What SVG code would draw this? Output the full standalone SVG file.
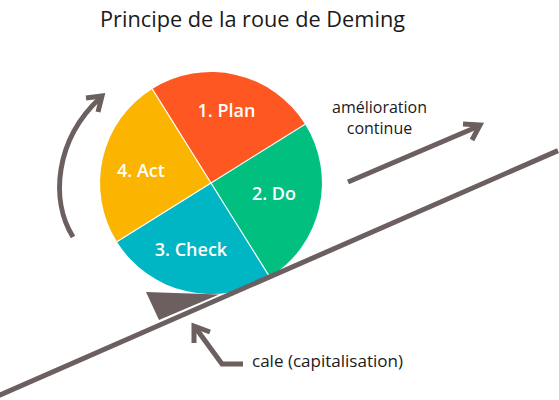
<svg xmlns="http://www.w3.org/2000/svg" width="559" height="400" viewBox="0 0 559 400">
<style>
text{font-family:"Open Sans","DejaVu Sans",sans-serif;}
.t{fill:#1a1a1a;}
.lbl{fill:#fff;font-size:18px;font-weight:600;text-anchor:middle;}
.ln{stroke:#6b5f5f;stroke-width:5;fill:none;stroke-linecap:butt;}
.sep{stroke:#fff;stroke-width:1.2;}
</style>
<rect width="559" height="400" fill="#fff"/>
<text class="t" x="100" y="27" font-size="22" textLength="305" lengthAdjust="spacingAndGlyphs">Principe de la roue de Deming</text>
<g id="plan">
<path d="M211,183 L152.2,88.9 A111,111 0 0 1 305.1,124.2 Z" fill="#FF5722"/>
<text class="lbl" x="226.5" y="117">1. Plan</text>
</g>
<g id="do">
<path d="M211,183 L305.1,124.2 A111,111 0 0 1 269.8,277.1 Z" fill="#00BF7F"/>
<text class="lbl" x="274" y="200">2. Do</text>
</g>
<g id="check">
<path d="M211,183 L269.8,277.1 A111,111 0 0 1 116.9,241.8 Z" fill="#00B5C4"/>
<text class="lbl" x="191" y="256">3. Check</text>
</g>
<g id="act">
<path d="M211,183 L116.9,241.8 A111,111 0 0 1 152.2,88.9 Z" fill="#FBB500"/>
<text class="lbl" x="141" y="177">4. Act</text>
</g>
<g id="separators">
<line class="sep" x1="211" y1="183" x2="152.2" y2="88.9"/>
<line class="sep" x1="211" y1="183" x2="305.1" y2="124.2"/>
<line class="sep" x1="211" y1="183" x2="269.8" y2="277.1"/>
<line class="sep" x1="211" y1="183" x2="116.9" y2="241.8"/>
</g>
<g id="slope">
<line class="ln" x1="-2" y1="395.9" x2="558" y2="150.6"/>
</g>
<g id="cale">
<polygon points="146,292 219,294.5 159,320" fill="#6b5f5f"/>
</g>
<g id="connectors">
<path class="ln" d="M73,237 C50,200 55,140 100,98"/>
<path class="ln" d="M86,98 L102,96 L98,112"/>
<line class="ln" x1="348" y1="182" x2="479" y2="126"/>
<path class="ln" d="M463,124 L480,125 L472,140"/>
<path class="ln" d="M243,364 L222,364 L195,327"/>
<path class="ln" d="M194,343 L194,326 L210,332"/>
</g>
<text class="t" x="379.5" y="112.5" font-size="16" text-anchor="middle">amélioration</text>
<text class="t" x="379.5" y="134" font-size="16" text-anchor="middle">continue</text>
<text class="t" x="252" y="367" font-size="16.5" textLength="151" lengthAdjust="spacingAndGlyphs">cale (capitalisation)</text>
</svg>
